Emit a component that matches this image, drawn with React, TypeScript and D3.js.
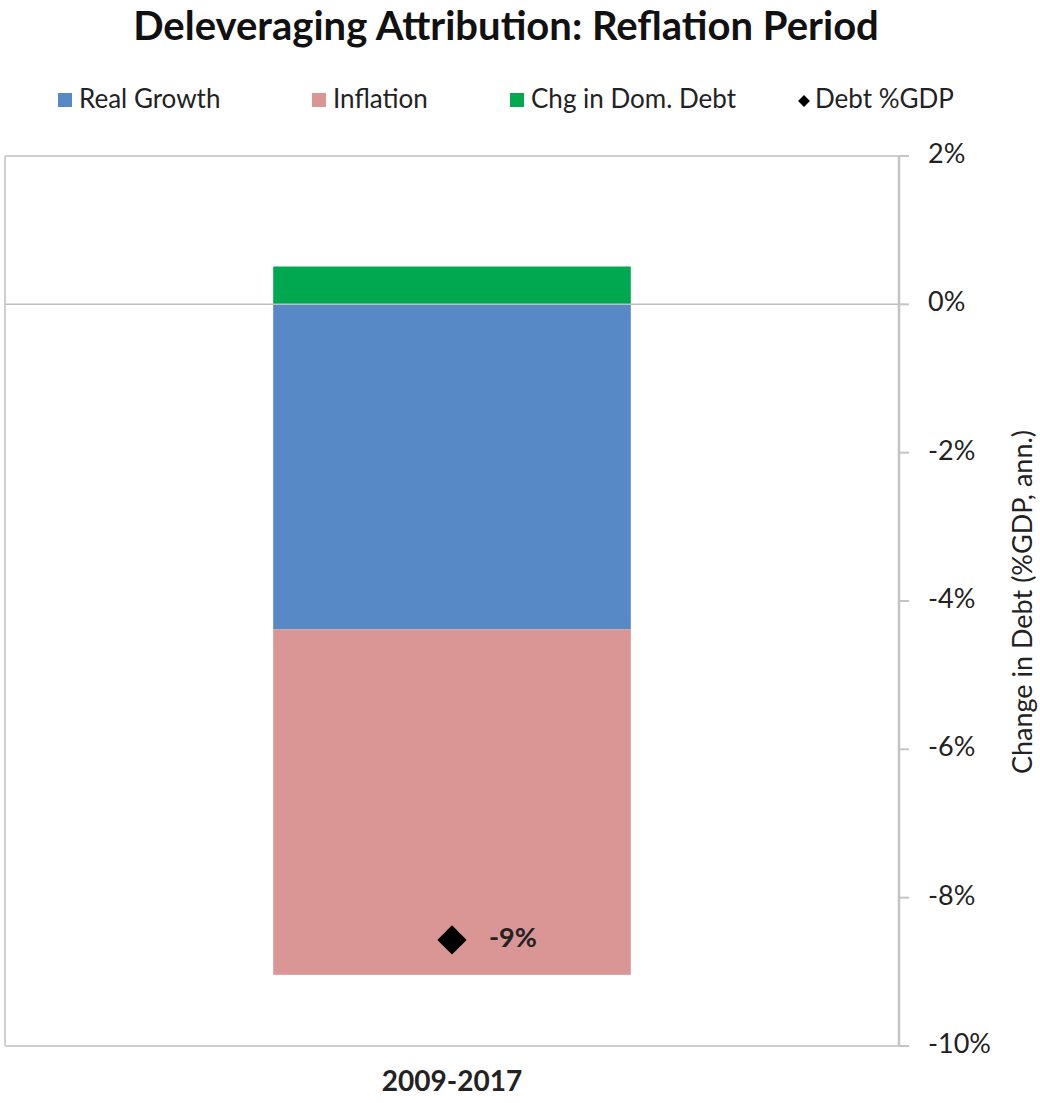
import React from "react";
import * as d3 from "d3";

const categories = ["2009-2017"];
const realGrowth = [-4.38];
const inflation = [-4.66];
const chgDomDebt = [0.51];
const debtGDP = [-8.57];
const debtLabels = ["-9%"];
const yTicks = [2, 0, -2, -4, -6, -8, -10];
const seriesNames = ["Real Growth", "Inflation", "Chg in Dom. Debt"];
const seriesColors = ["#5689c6", "#d99694", "#00a94f"];

const W = 1040;
const H = 1103;
const left = 5;
const right = 899;
const top = 156;
const bottom = 1046;
const FONT = "Lato, 'Open Sans', sans-serif";

export default function App() {
  const x = d3.scaleBand<string>().domain(categories).range([left, right]).paddingInner(0).paddingOuter(0.75);
  const y = d3.scaleLinear().domain([-10, 2]).range([bottom, top]);

  const rows = categories.map((c, i) => ({
    cat: c,
    "Real Growth": realGrowth[i],
    Inflation: inflation[i],
    "Chg in Dom. Debt": chgDomDebt[i],
  }));
  const stacked = d3.stack<any>().keys(seriesNames).offset(d3.stackOffsetDiverging)(rows);

  const diamond = d3.symbol().type(d3.symbolSquare).size(430)();
  const legendDiamond = d3.symbol().type(d3.symbolSquare).size(70)();

  const legendItems = [
    { name: "Real Growth", color: seriesColors[0], x: 58 },
    { name: "Inflation", color: seriesColors[1], x: 312 },
    { name: "Chg in Dom. Debt", color: seriesColors[2], x: 510 },
  ];

  return (
    <svg width={W} height={H} style={{ display: "block", position: "absolute", left: 0, top: 0, background: "#fff" }}>
      <rect x={0} y={0} width={W} height={H} fill="#fff" />
      <text x={506} y={30} textAnchor="middle" dominantBaseline="middle" fontFamily={FONT} fontWeight={700} fontSize={40} fill="#111">
        Deleveraging Attribution: Reflation Period
      </text>
      {legendItems.map((l) => (
        <g key={l.name}>
          <rect x={l.x} y={93} width={14} height={14} fill={l.color} />
          <text x={l.x + 21} y={101} dominantBaseline="middle" fontFamily={FONT} fontSize={26} fill="#222">
            {l.name}
          </text>
        </g>
      ))}
      <g>
        <path d={legendDiamond} transform={`translate(804,101) rotate(45)`} fill="#000" />
        <text x={815} y={101} dominantBaseline="middle" fontFamily={FONT} fontSize={26} fill="#222">
          Debt %GDP
        </text>
      </g>

      {/* plot frame */}
      <line x1={left} x2={right} y1={top} y2={top} stroke="#cfcfcf" strokeWidth={2} />
      <line x1={left} x2={right} y1={bottom} y2={bottom} stroke="#cfcfcf" strokeWidth={2} />
      <line x1={left} x2={left} y1={top} y2={bottom} stroke="#cfcfcf" strokeWidth={2} />

      {/* bars */}
      {stacked.map((s, si) =>
        s.map((d, i) => (
          <rect
            key={`${si}-${i}`}
            x={x(categories[i])}
            width={x.bandwidth()}
            y={y(Math.max(d[0], d[1]))}
            height={Math.abs(y(d[0]) - y(d[1]))}
            fill={seriesColors[si]}
          />
        ))
      )}

      {/* zero line */}
      <line x1={left} x2={right} y1={y(0)} y2={y(0)} stroke="#bdbdbd" strokeWidth={1.5} />

      {/* right axis */}
      <line x1={right} x2={right} y1={top} y2={bottom} stroke="#c4c4c4" strokeWidth={2.5} />
      {yTicks.map((t) => (
        <g key={t}>
          <line x1={right} x2={right + 10} y1={y(t)} y2={y(t)} stroke="#c4c4c4" strokeWidth={2} />
          <text x={928} y={y(t)} dominantBaseline="middle" fontFamily={FONT} fontSize={27} fill="#222">
            {`${t}%`}
          </text>
        </g>
      ))}
      <text
        transform={`translate(1025,${602}) rotate(-90)`}
        textAnchor="middle"
        dominantBaseline="middle"
        fontFamily={FONT}
        fontSize={27}
        fill="#222"
      >
        Change in Debt (%GDP, ann.)
      </text>

      {/* x label */}
      {categories.map((c) => (
        <text key={c} x={(x(c) ?? 0) + x.bandwidth() / 2} y={1084} textAnchor="middle" dominantBaseline="middle" fontFamily={FONT} fontWeight={700} fontSize={28} fill="#222">
          {c}
        </text>
      ))}

      {/* debt %GDP markers */}
      {categories.map((c, i) => {
        const cx = (x(c) ?? 0) + x.bandwidth() / 2;
        const cy = y(debtGDP[i]);
        return (
          <g key={`m-${c}`}>
            <path d={diamond} transform={`translate(${cx},${cy}) rotate(45)`} fill="#000" />
            <text x={cx + 37} y={cy} dominantBaseline="middle" fontFamily={FONT} fontWeight={700} fontSize={27} fill="#222">
              {debtLabels[i]}
            </text>
          </g>
        );
      })}
    </svg>
  );
}
